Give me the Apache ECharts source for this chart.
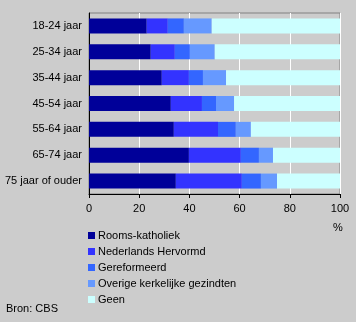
<!DOCTYPE html>
<html>
<head>
<meta charset="utf-8">
<script src="https://cdn.jsdelivr.net/npm/echarts@6/dist/echarts.min.js"></script>
<style>
html,body{margin:0;padding:0;background:#cccccc;}
#c{width:356px;height:322px;}
</style>
</head>
<body>
<div id="c"></div>
<script>
var categories = ['18-24 jaar','25-34 jaar','35-44 jaar','45-54 jaar','55-64 jaar','65-74 jaar','75 jaar of ouder'];
var seriesNames = ['Rooms-katholiek','Nederlands Hervormd','Gereformeerd','Overige kerkelijke gezindten','Geen'];
var roomsKatholiek = [23.0, 24.6, 29.0, 32.6, 33.8, 39.8, 34.6];
var nederlandsHervormd = [8.4, 9.6, 10.8, 12.4, 17.6, 20.7, 26.3];
var gereformeerd = [6.4, 6.0, 5.6, 5.6, 7.1, 7.2, 7.6];
var overige = [11.1, 9.9, 9.2, 7.2, 6.0, 5.6, 6.4];
var geen = [51.5, 49.9, 45.4, 42.2, 35.5, 26.7, 25.1];
var xTicks = [0, 20, 40, 60, 80, 100];
var colors = ['#000099','#3333ff','#3366ff','#6699ff','#ccffff'];

var dataSets = [roomsKatholiek, nederlandsHervormd, gereformeerd, overige, geen];
var font = 'Arial, "Liberation Sans", sans-serif';

var chart = echarts.init(document.getElementById('c'));
chart.setOption({
  backgroundColor: '#cccccc',
  animation: false,
  textStyle: {fontFamily: font},
  grid: {left: 89, right: 16, top: 13, bottom: 128, show: true, borderColor: '#808080', borderWidth: 1, backgroundColor: 'transparent'},
  xAxis: {
    type: 'value', min: xTicks[0], max: xTicks[xTicks.length-1], interval: 20,
    axisLine: {show: true, lineStyle: {color: '#000', width: 1}},
    axisTick: {show: true, length: 4, lineStyle: {color: '#000'}},
    splitLine: {show: true, lineStyle: {color: '#ffffff', width: 1}},
    axisLabel: {color: '#000', fontSize: 11, fontFamily: font, margin: 9}
  },
  yAxis: {
    type: 'category', data: categories, inverse: true,
    axisLine: {show: true, lineStyle: {color: '#000', width: 1}},
    axisTick: {show: false},
    splitLine: {show: false},
    axisLabel: {color: '#000', fontSize: 11, fontFamily: font, margin: 7}
  },
  legend: {
    orient: 'vertical', left: 88, top: 230, padding: 0,
    itemWidth: 7, itemHeight: 7, itemGap: 5, icon: 'rect',
    textStyle: {color: '#000', fontSize: 11, fontFamily: font, lineHeight: 11, padding: [0,0,0,-2]},
    data: seriesNames
  },
  series: seriesNames.map(function(n, i){
    return {
      name: n, type: 'bar', stack: 'total', data: dataSets[i],
      barWidth: 15, itemStyle: {color: colors[i]}, silent: true
    };
  }),
  graphic: [
    {type: 'text', left: 333, top: 222, style: {text: '%', fill: '#000', font: '11px ' + font}},
    {type: 'text', left: 6, top: 303, style: {text: 'Bron: CBS', fill: '#000', font: '11px ' + font}}
  ]
});
</script>
</body>
</html>
